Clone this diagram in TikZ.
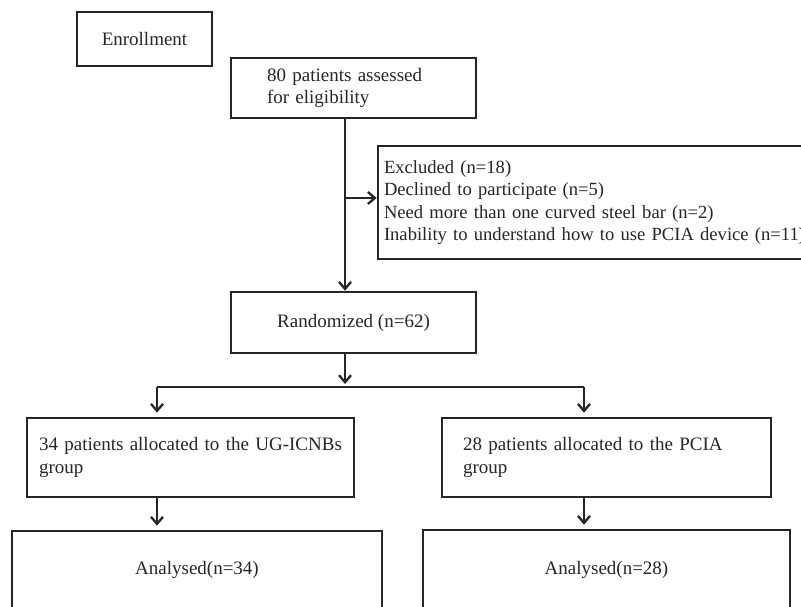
\documentclass[tikz,border=0pt]{standalone}
\usepackage{fontspec}
\setmainfont{Liberation Serif}
\usetikzlibrary{arrows.meta}
\definecolor{ink}{HTML}{262626}
\begin{document}
\begin{tikzpicture}[x=1pt,y=-1pt,
  box/.style={draw=ink, line width=2.7pt, text=ink, inner ysep=0pt,
    font=\fontsize{19}{22.6}\selectfont},
  lbox/.style={box, align=left},
  arr/.style={draw=ink, line width=2.3pt, -{Straight Barb[length=7pt,width=12pt,line width=2.3pt]}},
  ln/.style={draw=ink, line width=2.3pt}]
\useasboundingbox (0,0) rectangle (801,607);
\clip (0,0) rectangle (801,607);
\fill[white] (0,0) rectangle (801,607);

\node[box, minimum width=135pt, minimum height=54pt, inner xsep=0pt] (enroll) at (144.5,39) {Enrollment};
\node[lbox, text width=173pt, inner xsep=36pt, minimum height=60pt] (elig) at (353.5,88) {80 patients assessed\\for eligibility};
\node[lbox, text width=440pt, inner xsep=6pt, minimum height=113pt, font=\fontsize{18.6}{22.6}\selectfont] (excl) at (604,202.5)
  {Excluded (n=18)\\Declined to participate (n=5)\\Need more than one curved steel bar (n=2)\\Inability to understand how to use PCIA device (n=11)};
\node[box, minimum width=245pt, minimum height=61pt, inner xsep=0pt] (rand) at (353.5,322.5) {Randomized (n=62)};
\node[lbox, text width=303pt, inner xsep=12pt, minimum height=79pt] (grpL) at (190.5,457.5) {34 patients allocated to the UG-ICNBs\\group};
\node[lbox, text width=287pt, inner xsep=21pt, minimum height=79pt] (grpR) at (606.5,457.5) {28 patients allocated to the PCIA\\group};
\node[box, minimum width=370pt, minimum height=78pt, inner xsep=0pt] (anaL) at (197,570) {Analysed(n=34)};
\node[box, minimum width=367pt, minimum height=80pt, inner xsep=0pt] (anaR) at (606.5,570) {Analysed(n=28)};

\coordinate (vx) at (345,0);
\coordinate (bx) at (345,198);
\coordinate (sp) at (345,387);
\coordinate (spL) at (157,387);
\coordinate (spR) at (584,387);

\draw[arr] (elig.south -| vx) -- (rand.north -| vx);
\draw[arr] (bx) -- (bx -| excl.west);
\draw[arr, shorten >=3pt] (rand.south -| vx) -- (sp);
\draw[ln] (spL) -- (spR);
\draw[arr, shorten >=4pt] (spL) -- (grpL.north -| spL);
\draw[arr, shorten >=4pt] (spR) -- (grpR.north -| spR);
\draw[arr, shorten >=4pt] (grpL.south -| spL) -- (anaL.north -| spL);
\draw[arr, shorten >=4pt] (grpR.south -| spR) -- (anaR.north -| spR);
\end{tikzpicture}
\end{document}
